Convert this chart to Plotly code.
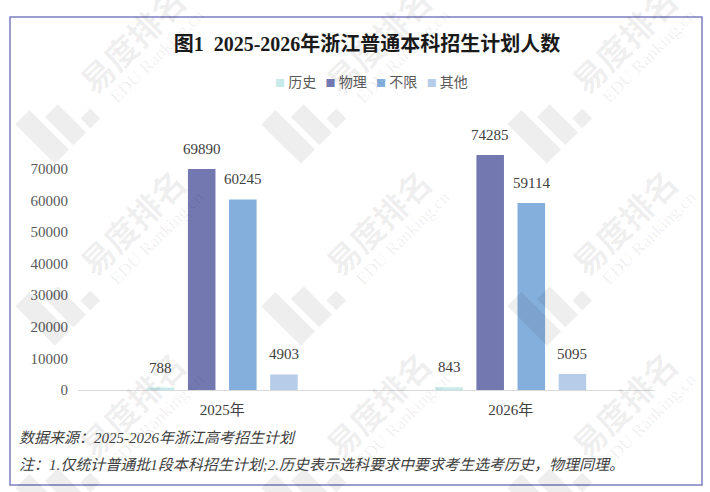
import math
import plotly.graph_objects as go

years = ['2025年', '2026年']
series = ['历史', '物理', '不限', '其他']
history = [788, 843]
physics = [69890, 74285]
unrestricted = [60245, 59114]
others = [4903, 5095]
values = [history, physics, unrestricted, others]
colors = ['#c6ebea', '#7478b0', '#84afdc', '#b6cce9']

y_ticks = [0, 10000, 20000, 30000, 40000, 50000, 60000, 70000]

W, H = 710, 492
L, R, T, B = 78, 55, 137, 102
bargap = 0.43
serif = 'Liberation Serif, Noto Sans CJK SC'


# pixel -> paper coordinates
def px(x):
    return (x - L) / (W - L - R)


def py(y):
    return (H - B - y) / (H - T - B)


fig = go.Figure()
for name, vals, c in zip(series, values, colors):
    fig.add_trace(go.Bar(x=years, y=vals, name=name, marker_color=c,
                         marker_line_width=0, showlegend=False))

annotations = []

# value labels above the bars
slot = (1 - bargap) / len(series)
for j, vals in enumerate(values):
    for i, v in enumerate(vals):
        annotations.append(dict(
            x=i + (j - (len(series) - 1) / 2) * slot, y=v, xref='x', yref='y',
            text=str(v), showarrow=False, yanchor='bottom', yshift=10,
            font=dict(family=serif, size=15, color='#404040')))

# legend row
legend_text = '   '.join(
    "<span style='font-size:10px;color:%s'>■</span> %s" % (c, n)
    for n, c in zip(series, colors))
annotations.append(dict(
    x=px(371), y=py(81), xref='paper', yref='paper', text=legend_text,
    showarrow=False, xanchor='center', yanchor='middle',
    font=dict(family='Noto Sans CJK SC', size=14, color='#595959')))

# footnotes
notes = ['数据来源：2025-2026年浙江高考招生计划',
         '注：1.仅统计普通批1段本科招生计划;2.历史表示选科要求中要求考生选考历史，物理同理。']
for txt, yy in zip(notes, [438, 465]):
    annotations.append(dict(
        x=px(17), y=py(yy), xref='paper', yref='paper', text='<i>%s</i>' % txt,
        showarrow=False, xanchor='left', yanchor='middle',
        font=dict(family=serif, size=15, color='#404040')))

# watermark tiles
wm = 'rgba(0,0,0,0.068)'
shapes = []
r2 = math.sqrt(2)


def local(cx, cy, u, v):
    return cx + (u - v) / r2, cy + (-u - v) / r2


logo_rects = [(-142, -122, -33, 23), (-116, -98, -33, 7), (-92, -78, -33, -19)]
for cy in [40, 222, 404]:
    for cx in [132, 378, 624]:
        annotations.append(dict(
            x=px(cx), y=py(cy), xref='paper', yref='paper', text='<b>易度排名</b>',
            showarrow=False, textangle=-45, xanchor='center', yanchor='middle',
            font=dict(family='Noto Sans CJK SC', size=33, color=wm)))
        ex, ey = local(cx, cy, 6, -29)
        annotations.append(dict(
            x=px(ex), y=py(ey), xref='paper', yref='paper', text='EDU Ranking.cn',
            showarrow=False, textangle=-45, xanchor='center', yanchor='middle',
            font=dict(family='Liberation Serif', size=18, color=wm)))
        for u0, u1, v0, v1 in logo_rects:
            pts = [local(cx, cy, u, v) for u, v in [(u0, v0), (u1, v0), (u1, v1), (u0, v1)]]
            path = 'M ' + ' L '.join('%.4f,%.4f' % (px(a), py(b)) for a, b in pts) + ' Z'
            shapes.append(dict(type='path', path=path, xref='paper', yref='paper',
                               fillcolor=wm, line_width=0, layer='above'))

# frame
shapes.append(dict(type='rect', xref='paper', yref='paper',
                   x0=px(10), x1=px(702), y0=py(485), y1=py(17),
                   line=dict(color='#7b7fbf', width=1.5), layer='below'))

fig.update_layout(
    width=W, height=H,
    margin=dict(l=L, r=R, t=T, b=B),
    paper_bgcolor='white', plot_bgcolor='white',
    barmode='group', bargap=bargap, bargroupgap=0.33,
    title=dict(text='<b>图1  2025-2026年浙江普通本科招生计划人数</b>',
               x=px(367), xref='paper', xanchor='center',
               y=1 - 44 / H, yref='container', yanchor='middle',
               font=dict(family=serif, size=20, color='#1a1a1a')),
    xaxis=dict(showline=True, linecolor='#d9d9d9', linewidth=1, ticks='',
               ticklabelstandoff=6,
               tickfont=dict(family=serif, size=15, color='#404040')),
    yaxis=dict(range=[0, 80000], tickvals=y_ticks, tickformat='d',
               showgrid=False, zeroline=False,
               showline=False, ticks='', ticklabelstandoff=9,
               tickfont=dict(family=serif, size=15, color='#595959')),
    annotations=annotations,
    shapes=shapes,
    showlegend=False,
)

# drop the default page margin so the figure sits at the window corner
fig.write_html('out.html', config={'displayModeBar': False},
               post_script="document.body.style.margin='0';")
